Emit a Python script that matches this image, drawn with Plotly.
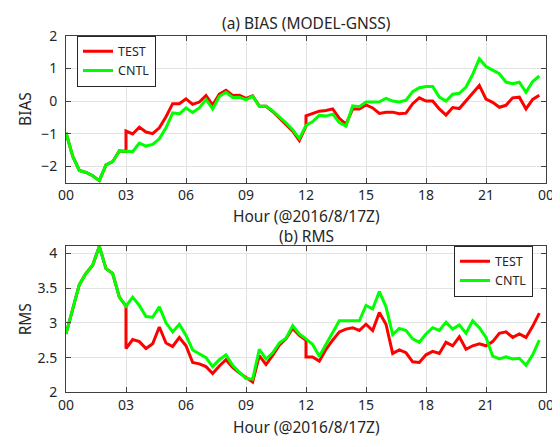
import plotly.graph_objects as go

# time axis (hours since 00Z, 20-minute steps)
hours = [i / 3 for i in range(72)]
# TEST has restarts at 03Z and 12Z (duplicated time points)
test_hours = hours[:10] + hours[9:37] + hours[36:]

x_tickvals = [0, 3, 6, 9, 12, 15, 18, 21, 24]
x_ticktext = ["00", "03", "06", "09", "12", "15", "18", "21", "00"]

cntl_bias = [-0.97, -1.69, -2.13, -2.19, -2.29, -2.44, -1.96, -1.86, -1.53, -1.55,
             -1.55, -1.29, -1.38, -1.33, -1.16, -0.82, -0.36, -0.39, -0.21, -0.35,
             -0.21, 0.05, -0.24, 0.14, 0.27, 0.11, 0.12, 0.04, 0.15, -0.16,
             -0.16, -0.30, -0.48, -0.67, -0.88, -1.15, -0.75, -0.63, -0.44, -0.46,
             -0.40, -0.66, -0.77, -0.15, -0.17, -0.03, -0.03, -0.02, 0.08, 0.00,
             -0.03, 0.03, 0.29, 0.41, 0.45, 0.45, 0.12, 0.00, 0.21, 0.24,
             0.43, 0.82, 1.30, 1.06, 0.95, 0.84, 0.58, 0.53, 0.58, 0.27,
             0.60, 0.77]

test_bias = [-0.97, -1.69, -2.13, -2.19, -2.29, -2.44, -1.96, -1.86, -1.53, -1.55,
             -0.92, -1.01, -0.80, -0.95, -1.00, -0.82, -0.48, -0.08, -0.08, 0.07,
             -0.10, -0.03, 0.17, -0.12, 0.21, 0.33, 0.17, 0.18, 0.08, 0.16,
             -0.15, -0.16, -0.32, -0.51, -0.70, -0.92, -1.21, -0.77,
             -0.45, -0.37, -0.31, -0.29, -0.24, -0.53, -0.71, -0.24, -0.24, -0.12,
             -0.21, -0.38, -0.34, -0.34, -0.39, -0.37, -0.08, 0.10, 0.00, 0.00,
             -0.24, -0.43, -0.20, -0.23, 0.00, 0.24, 0.48, 0.06, -0.04, -0.19,
             -0.13, 0.10, 0.12, -0.24, 0.05, 0.18]

cntl_rms = [2.84, 3.18, 3.55, 3.71, 3.83, 4.10, 3.78, 3.71, 3.37, 3.24,
            3.37, 3.25, 3.09, 3.08, 3.23, 3.00, 2.87, 2.98, 2.82, 2.61,
            2.56, 2.50, 2.37, 2.47, 2.54, 2.39, 2.29, 2.20, 2.19, 2.62,
            2.48, 2.57, 2.71, 2.78, 2.96, 2.84, 2.77, 2.69, 2.52, 2.68,
            2.86, 3.03, 3.03, 3.03, 3.03, 3.25, 3.20, 3.45, 3.23, 2.83,
            2.92, 2.89, 2.77, 2.72, 2.84, 2.93, 2.89, 3.01, 2.91, 2.97,
            2.85, 3.03, 2.93, 2.79, 2.52, 2.48, 2.51, 2.48, 2.49, 2.39,
            2.54, 2.75]

test_rms = [2.84, 3.18, 3.55, 3.71, 3.83, 4.10, 3.78, 3.71, 3.37, 3.24,
            2.63, 2.76, 2.73, 2.63, 2.70, 2.94, 2.71, 2.66, 2.79, 2.67,
            2.43, 2.41, 2.37, 2.27, 2.38, 2.47, 2.36, 2.28, 2.21, 2.15,
            2.53, 2.40, 2.53, 2.68, 2.77, 2.92, 2.82, 2.75,
            2.51, 2.51, 2.45, 2.62, 2.75, 2.87, 2.91, 2.93, 2.89, 2.98,
            2.89, 3.15, 2.98, 2.56, 2.61, 2.57, 2.44, 2.43, 2.54, 2.59,
            2.56, 2.72, 2.67, 2.80, 2.62, 2.67, 2.70, 2.67, 2.73, 2.85,
            2.87, 2.79, 2.84, 2.79, 2.95, 3.14]

RED = "#ff0000"
GREEN = "#00ff00"
FONT = "Noto Sans"
TXT = "#262626"
# the page body has an 8px default margin; size the figure so it fits the window
OFF = 8
W, H = 560 - OFF, 447 - OFF
L, R = 66 - OFF, 14
PW = 480


def py(p):
    return 1 - (p - OFF) / H


def px(p):
    return (p - 66) / PW


fig = go.Figure()
fig.add_trace(go.Scatter(x=test_hours, y=test_bias, mode="lines", name="TEST",
                         line=dict(color=RED, width=3), xaxis="x", yaxis="y", legend="legend"))
fig.add_trace(go.Scatter(x=hours, y=cntl_bias, mode="lines", name="CNTL",
                         line=dict(color=GREEN, width=3), xaxis="x", yaxis="y", legend="legend"))
fig.add_trace(go.Scatter(x=test_hours, y=test_rms, mode="lines", name="TEST",
                         line=dict(color=RED, width=3), xaxis="x2", yaxis="y2", legend="legend2"))
fig.add_trace(go.Scatter(x=hours, y=cntl_rms, mode="lines", name="CNTL",
                         line=dict(color=GREEN, width=3), xaxis="x2", yaxis="y2", legend="legend2"))

axis_common = dict(showline=True, linecolor="#404040", linewidth=1, mirror="ticks",
                   ticks="inside", ticklen=5, tickcolor="#404040",
                   showgrid=True, gridcolor="#e3e3e3", gridwidth=1, zeroline=False,
                   tickfont=dict(family=FONT, size=14, color=TXT))

legend_common = dict(bgcolor="white", bordercolor="#262626", borderwidth=1,
                     font=dict(family=FONT, size=12.5, color=TXT), tracegroupgap=0)

fig.update_layout(
    width=W, height=H,
    margin=dict(l=L, r=R, t=0, b=0),
    paper_bgcolor="white", plot_bgcolor="white",
    font=dict(family=FONT, size=15.5, color=TXT),
    xaxis=dict(domain=[0, 1], range=[0, 24], tickvals=x_tickvals, ticktext=x_ticktext,
               anchor="y", ticklabelstandoff=0, **axis_common),
    yaxis=dict(domain=[py(180), py(26.7)], range=[-2.5, 2], tickvals=[-2, -1, 0, 1, 2],
               anchor="x", ticklabelstandoff=5, **axis_common),
    xaxis2=dict(domain=[0, 1], range=[0, 24], tickvals=x_tickvals, ticktext=x_ticktext,
                anchor="y2", ticklabelstandoff=0, **axis_common),
    yaxis2=dict(domain=[py(399.3), py(246.7)], range=[2, 4.1],
                tickvals=[2, 2.5, 3, 3.5, 4], ticktext=["2", "2.5", "3", "3.5", "4"],
                anchor="x2", ticklabelstandoff=5, **axis_common),
    legend=dict(x=px(77), y=py(53), xanchor="left", yanchor="middle", **legend_common),
    legend2=dict(x=px(533), y=py(272.5), xanchor="right", yanchor="middle", **legend_common),
    annotations=[
        dict(text="(a) BIAS (MODEL-GNSS)", x=0.5, y=py(13), xref="paper", yref="paper",
             showarrow=False, xanchor="center", yanchor="middle"),
        dict(text="Hour (@2016/8/17Z)", x=0.5, y=py(215), xref="paper", yref="paper",
             showarrow=False, xanchor="center", yanchor="middle"),
        dict(text="BIAS", x=px(25), y=py(103), xref="paper", yref="paper",
             showarrow=False, xanchor="center", yanchor="middle", textangle=-90),
        dict(text="(b) RMS", x=0.5, y=py(236), xref="paper", yref="paper",
             showarrow=False, xanchor="center", yanchor="middle"),
        dict(text="Hour (@2016/8/17Z)", x=0.5, y=py(436), xref="paper", yref="paper",
             showarrow=False, xanchor="center", yanchor="middle"),
        dict(text="RMS", x=px(25), y=py(323), xref="paper", yref="paper",
             showarrow=False, xanchor="center", yanchor="middle", textangle=-90),
    ],
)

fig.write_html("out.html")
